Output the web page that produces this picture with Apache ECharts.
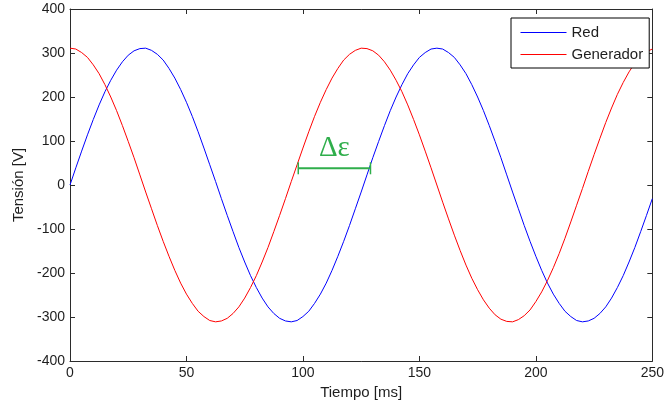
<!DOCTYPE html>
<html>
<head>
<meta charset="utf-8">
<script src="https://cdn.jsdelivr.net/npm/echarts@6/dist/echarts.min.js"></script>
<style>html,body{margin:0;padding:0;background:#fff;}#c{width:667px;height:409px;}</style>
</head>
<body>
<div id="c"></div>
<script>
// Time samples (ms)
const times = [0,2.5,5,7.5,10,12.5,15,17.5,20,22.5,25,27.5,30,32.5,35,37.5,40,42.5,45,47.5,50,52.5,55,57.5,60,62.5,65,67.5,70,72.5,75,77.5,80,82.5,85,87.5,90,92.5,95,97.5,100,102.5,105,107.5,110,112.5,115,117.5,120,122.5,125,127.5,130,132.5,135,137.5,140,142.5,145,147.5,150,152.5,155,157.5,160,162.5,165,167.5,170,172.5,175,177.5,180,182.5,185,187.5,190,192.5,195,197.5,200,202.5,205,207.5,210,212.5,215,217.5,220,222.5,225,227.5,230,232.5,235,237.5,240,242.5,245,247.5,250];
// "Red" (blue curve), volts
const redVoltage = [0,39,77,114,149,182,212,238,261,280,295,305,310,311,306,297,284,265,243,217,188,156,121,84,46,8,-31,-69,-106,-142,-175,-206,-233,-257,-277,-292,-303,-309,-311,-308,-299,-287,-269,-248,-223,-194,-162,-128,-92,-54,-16,23,62,99,135,169,200,228,253,273,290,301,309,311,309,301,290,273,253,228,200,169,135,99,62,23,-16,-54,-92,-128,-162,-194,-223,-248,-269,-287,-299,-308,-311,-309,-303,-292,-277,-257,-233,-206,-175,-142,-106,-69,-31];
// "Generador" (red curve)
const generatorVoltage = [311,309,301,290,273,253,228,200,169,135,99,62,23,-16,-54,-92,-128,-162,-194,-223,-248,-269,-287,-299,-308,-311,-309,-303,-292,-277,-257,-233,-206,-175,-142,-106,-69,-31,8,46,84,121,156,188,217,243,265,284,297,306,311,310,305,295,280,261,238,212,182,149,114,77,39,0,-39,-77,-114,-149,-182,-212,-238,-261,-280,-295,-305,-310,-311,-306,-297,-284,-265,-243,-217,-188,-156,-121,-84,-46,-8,31,69,106,142,175,206,233,257,277,292,303,309];
const seriesNames = ['Red', 'Generador'];
// Δε annotation: [start time, end time, level]
const deltaMark = [[98, 129, 38]];
const deltaLabel = 'Δε';
const xTicks = {min: 0, max: 250, interval: 50};
const yTicks = {min: -400, max: 400, interval: 100};

const font = 'Liberation Sans, Arial, sans-serif';
const axisColor = '#2b2b2b';
const textColor = '#1e1e1e';
const green = '#2fae4b';

const chart = echarts.init(document.getElementById('c'));
function pairs(ys){ return times.map((t,i)=>[t, ys[i]]); }
const baseAxis = {
  axisLine: {show: true, onZero: false, lineStyle: {color: axisColor, width: 1}},
  axisTick: {show: true, inside: true, length: 5, lineStyle: {color: axisColor}},
  splitLine: {show: false}
};
chart.setOption({
  animation: false,
  grid: {left: 70, right: 10, top: 9, bottom: 48},
  legend: {
    data: seriesNames,
    orient: 'vertical', left: 511, top: 18,
    padding: [7, 6, 6, 9], itemGap: 7, itemWidth: 46, itemHeight: 14, itemTextGap: 4,
    borderColor: '#000', borderWidth: 1, backgroundColor: '#fff',
    itemStyle: {opacity: 0},
    lineStyle: {width: 1},
    textStyle: {fontFamily: font, fontSize: 15, color: textColor}
  },
  xAxis: [
    Object.assign({type: 'value', position: 'bottom', min: xTicks.min, max: xTicks.max, interval: xTicks.interval,
      name: 'Tiempo [ms]', nameLocation: 'middle', nameGap: 24,
      nameTextStyle: {fontFamily: font, fontSize: 15, color: textColor},
      axisLabel: {fontFamily: font, fontSize: 14, color: textColor, margin: 5}}, baseAxis),
    Object.assign({type: 'value', position: 'top', min: xTicks.min, max: xTicks.max, interval: xTicks.interval,
      axisLabel: {show: false}}, baseAxis)
  ],
  yAxis: [
    Object.assign({type: 'value', position: 'left', min: yTicks.min, max: yTicks.max, interval: yTicks.interval,
      name: 'Tensión [V]', nameLocation: 'middle', nameGap: 44,
      nameTextStyle: {fontFamily: font, fontSize: 15, color: textColor},
      axisLabel: {fontFamily: font, fontSize: 14, color: textColor, margin: 5}}, baseAxis),
    Object.assign({type: 'value', position: 'right', min: yTicks.min, max: yTicks.max, interval: yTicks.interval,
      axisLabel: {show: false}}, baseAxis)
  ],
  series: [
    {name: seriesNames[0], type: 'line', data: pairs(redVoltage), symbol: 'none', smooth: false,
      lineStyle: {color: '#0000ff', width: 1}, itemStyle: {color: '#0000ff'}},
    {name: seriesNames[1], type: 'line', data: pairs(generatorVoltage), symbol: 'none', smooth: false,
      lineStyle: {color: '#ff0000', width: 1}, itemStyle: {color: '#ff0000'}},
    {name: 'delta', type: 'custom', data: deltaMark, z: 5,
      renderItem: function(params, api){
        const a = api.coord([api.value(0), api.value(2)]);
        const b = api.coord([api.value(1), api.value(2)]);
        const st = {stroke: green, lineWidth: 2};
        return {type: 'group', children: [
          {type: 'line', shape: {x1: a[0], y1: a[1], x2: b[0], y2: b[1]}, style: st},
          {type: 'line', shape: {x1: a[0], y1: a[1]-6, x2: a[0], y2: a[1]+6}, style: {stroke: green, lineWidth: 1.5}},
          {type: 'line', shape: {x1: b[0], y1: b[1]-6, x2: b[0], y2: b[1]+6}, style: {stroke: green, lineWidth: 1.5}},
          {type: 'text', x: (a[0]+b[0])/2, y: a[1]-20, style: {text: deltaLabel, fill: green,
            font: '29px "Liberation Serif", "DejaVu Serif", serif', align: 'center', verticalAlign: 'middle'}}
        ]};
      }}
  ]
});
</script>
</body>
</html>
